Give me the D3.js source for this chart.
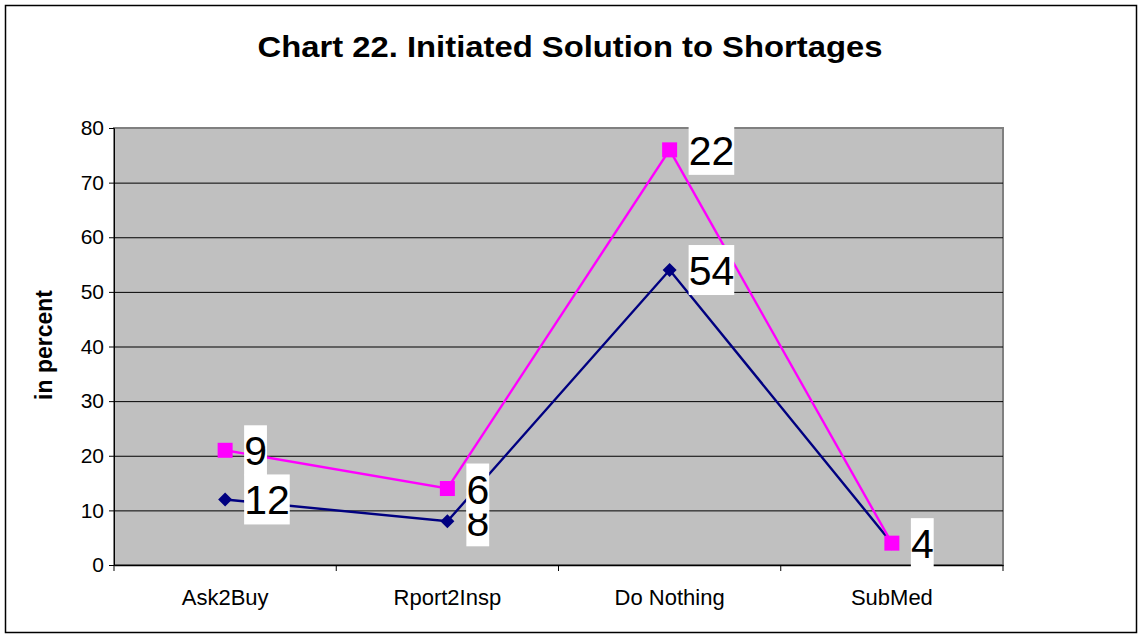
<!DOCTYPE html>
<html>
<head>
<meta charset="utf-8">
<title>Chart 22</title>
<script src="https://cdn.jsdelivr.net/npm/d3@7"></script>
<style>
body { margin:0; background:#fff; }
text { font-family: Arial, "Liberation Sans", sans-serif; }
</style>
</head>
<body>
<svg id="chart" width="1141" height="637"></svg>
<script>
// data
var categories = ["Ask2Buy", "Rport2Insp", "Do Nothing", "SubMed"];
var blueValues = [12, 8, 54, 4];
var pinkValues = [21, 14, 76, 4];
var blueLabels = ["12", "8", "54", ""];
var pinkLabels = ["9", "6", "22", "4"];
var yTicks = [0, 10, 20, 30, 40, 50, 60, 70, 80];

var svg = d3.select("#chart");
var plot = {left:114, right:1003, top:128, bottom:565};

// outer border
svg.append("rect").attr("x",5.5).attr("y",5.5).attr("width",1131).attr("height",627)
  .attr("fill","#fff").attr("stroke","#000").attr("stroke-width",1.5);

svg.append("text").attr("x",570).attr("y",57).attr("text-anchor","middle")
  .attr("textLength",625).attr("lengthAdjust","spacingAndGlyphs")
  .style("font-size","30px").style("font-weight","bold").text("Chart 22. Initiated Solution to Shortages");

var x = d3.scaleBand().domain(categories).range([plot.left, plot.right]);
var y = d3.scaleLinear().domain([0, 80]).range([plot.bottom, plot.top]);

// plot area
svg.append("rect").attr("x",plot.left).attr("y",plot.top)
  .attr("width",plot.right-plot.left).attr("height",plot.bottom-plot.top)
  .attr("fill","#c0c0c0").attr("stroke","#808080").attr("stroke-width",2);

// gridlines
svg.append("g").selectAll("line").data(yTicks.filter(function(d){return d>0 && d<80;}))
  .enter().append("line")
  .attr("x1",plot.left).attr("x2",plot.right)
  .attr("y1",function(d){return y(d)+0.5;}).attr("y2",function(d){return y(d)+0.5;})
  .attr("stroke","#000").attr("stroke-width",1);

// y axis
var yAxis = svg.append("g").attr("transform","translate("+plot.left+",0)")
  .call(d3.axisLeft(y).tickValues(yTicks).tickSize(5).tickPadding(5));
yAxis.select(".domain").attr("stroke","#000");
yAxis.selectAll(".tick text").style("font-size","21px").attr("fill","#000");

// x axis, ticks at category boundaries
var xAxis = svg.append("g").attr("transform","translate(0,"+plot.bottom+")")
  .call(d3.axisBottom(x).tickSize(0).tickPadding(24));
xAxis.select(".domain").attr("stroke","#000").attr("stroke-width",1.5);
xAxis.selectAll(".tick text").style("font-size","22px").attr("fill","#000");
var bounds = categories.map(function(c){return x(c);}).concat([plot.right]);
svg.append("g").selectAll("line").data(bounds).enter().append("line")
  .attr("x1",function(d){return d;}).attr("x2",function(d){return d;})
  .attr("y1",plot.bottom).attr("y2",plot.bottom+6)
  .attr("stroke","#000").attr("stroke-width",1);

svg.append("text").attr("transform","translate(52,345) rotate(-90)")
  .attr("text-anchor","middle").style("font-size","23px").style("font-weight","bold")
  .text("in percent");

var cx = function(d,i){return x(categories[i]) + x.bandwidth()/2;};
var line = d3.line().x(function(d,i){return cx(d,i);}).y(function(d){return y(d);});

// blue series
svg.append("path").datum(blueValues).attr("d",line).attr("fill","none")
  .attr("stroke","#000080").attr("stroke-width",2.4);
svg.append("g").selectAll("path").data(blueValues).enter().append("path")
  .attr("d","M0,-7L7,0L0,7L-7,0Z")
  .attr("transform",function(d,i){return "translate("+cx(d,i)+","+y(d)+")";})
  .attr("fill","#000080");

// pink series
svg.append("path").datum(pinkValues).attr("d",line).attr("fill","none")
  .attr("stroke","#ff00ff").attr("stroke-width",2.4);
svg.append("g").selectAll("rect").data(pinkValues).enter().append("rect")
  .attr("x",function(d,i){return cx(d,i)-7.5;}).attr("y",function(d){return y(d)-7.5;})
  .attr("width",15).attr("height",15).attr("fill","#ff00ff");

// data labels, to the right of the point
function addLabels(vals, labels) {
  var g = svg.append("g");
  vals.forEach(function(v,i){
    if (!labels[i]) return;
    var lg = g.append("g").attr("transform","translate("+(cx(v,i)+19)+","+y(v)+")");
    var t = lg.append("text").attr("x",0).attr("y",15).style("font-size","41px").attr("fill","#000").text(labels[i]);
    var w = t.node().getComputedTextLength();
    lg.insert("rect","text").attr("x",0).attr("y",-25).attr("width",w).attr("height",50).attr("fill","#fff");
  });
}
addLabels(blueValues, blueLabels);
addLabels(pinkValues, pinkLabels);
</script>
</body>
</html>
